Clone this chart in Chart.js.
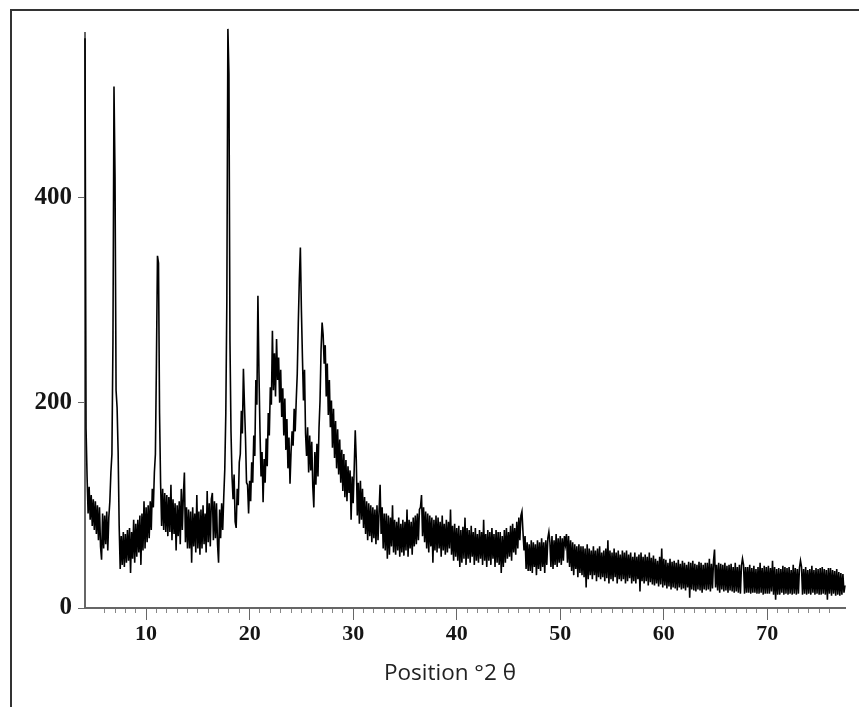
<!DOCTYPE html>
<html>
<head>
<meta charset="utf-8">
<title>Position °2 θ</title>
<script src="https://cdn.jsdelivr.net/npm/chart.js@4.4.0/dist/chart.umd.min.js"></script>
<style>
  html, body { margin: 0; padding: 0; background: #fff; }
  #wrap { position: relative; width: 859px; height: 707px; overflow: hidden; }
  #frame { position: absolute; left: 10px; top: 9px; width: 900px; height: 800px;
           border-top: 2px solid #333; border-left: 2px solid #333; }
  #xrd { position: absolute; left: 0; top: 0; }
  #xTitle { position: absolute; left: 330px; top: 657px; width: 240px; text-align: center;
            font: 22.5px "Open Sans", "DejaVu Sans", sans-serif; color: #222; line-height: 30px; }
</style>
</head>
<body>
<div id="wrap">
  <div id="frame"></div>
  <canvas id="xrd" width="859" height="707"></canvas>
  <div id="xTitle">Position °2 θ</div>
</div>
<script>
// ---------- DATA ----------
// scan grid (°2θ)
const startAngle = 4.1;
const stepAngle = 0.1;
const angleMin = 4.1;
const angleMax = 77.5;

// intensities, 10 points per degree (x.1 ... x+1.0)
const intensity = [
  555, 175, 128, 92, 118, 86, 110, 80, 106, 76,        // 4
  104, 72, 100, 66, 98, 60, 47, 92, 58, 90,            // 5
  62, 94, 56, 88, 104, 132, 150, 260, 508, 420,        // 6
  212, 195, 152, 80, 38, 70, 42, 74, 40, 72,           // 7
  44, 76, 46, 78, 34, 74, 48, 86, 44, 82,              // 8
  50, 86, 54, 90, 42, 92, 56, 104, 58, 98,             // 9
  64, 100, 68, 104, 76, 116, 98, 132, 150, 240,        // 10
  343, 336, 190, 122, 80, 116, 76, 112, 74, 110,       // 11
  70, 108, 74, 120, 66, 106, 72, 102, 56, 100,         // 12
  70, 104, 62, 116, 76, 110, 132, 64, 98, 58,          // 13
  96, 58, 94, 44, 98, 60, 92, 54, 110, 58,             // 14
  94, 52, 96, 58, 100, 62, 92, 54, 114, 64,            // 15
  102, 60, 106, 112, 66, 104, 68, 102, 62, 44,         // 16
  96, 68, 102, 76, 108, 135, 190, 300, 564, 520,       // 17
  260, 172, 128, 106, 130, 84, 78, 116, 100, 142,      // 18
  150, 192, 170, 233, 198, 166, 122, 120, 92, 124,     // 19
  104, 142, 122, 168, 148, 222, 198, 304, 230, 172,    // 20
  128, 152, 103, 145, 122, 165, 138, 190, 168, 215,    // 21
  198, 270, 212, 248, 206, 262, 222, 244, 200, 232,    // 22
  186, 214, 168, 204, 154, 184, 136, 166, 121, 152,    // 23
  172, 158, 194, 172, 202, 228, 277, 320, 351, 290,    // 24
  244, 202, 232, 170, 148, 176, 132, 168, 134, 162,    // 25
  118, 98, 152, 120, 160, 128, 175, 202, 252, 278,     // 26
  266, 238, 256, 206, 238, 188, 222, 176, 202, 156,    // 27
  194, 146, 182, 136, 174, 130, 164, 122, 154, 114,    // 28
  150, 108, 144, 104, 138, 112, 134, 86, 128, 102,     // 29
  136, 173, 144, 90, 122, 82, 124, 86, 116, 78,        // 30
  108, 72, 104, 66, 102, 70, 100, 64, 98, 68,          // 31
  96, 62, 100, 66, 94, 120, 72, 98, 58, 92,            // 32
  56, 92, 48, 90, 52, 88, 60, 100, 54, 86,             // 33
  52, 84, 56, 88, 50, 82, 54, 86, 51, 84,              // 34
  56, 96, 50, 86, 58, 84, 52, 88, 60, 90,              // 35
  62, 92, 66, 96, 98, 110, 70, 98, 64, 94,             // 36
  58, 92, 54, 90, 60, 88, 44, 86, 56, 90,              // 37
  54, 88, 58, 84, 50, 90, 56, 82, 52, 86,              // 38
  54, 84, 58, 96, 52, 80, 46, 82, 50, 78,              // 39
  46, 80, 40, 76, 44, 79, 48, 88, 42, 78,              // 40
  48, 76, 44, 80, 50, 74, 42, 78, 46, 72,              // 41
  44, 76, 48, 74, 42, 86, 46, 72, 40, 76,              // 42
  46, 74, 42, 78, 48, 72, 40, 76, 44, 74,              // 43
  42, 74, 34, 70, 40, 76, 44, 78, 48, 74,              // 44
  50, 80, 46, 82, 54, 78, 52, 84, 58, 88,              // 45
  66, 90, 94, 74, 56, 70, 38, 64, 36, 62,              // 46
  36, 66, 34, 64, 40, 62, 32, 66, 38, 64,              // 47
  36, 68, 40, 64, 34, 66, 42, 68, 74, 64,              // 48
  40, 70, 38, 66, 42, 72, 40, 68, 44, 70,              // 49
  42, 68, 46, 70, 62, 72, 44, 70, 40, 66,              // 50
  36, 64, 32, 62, 38, 60, 30, 62, 34, 60,              // 51
  32, 60, 30, 58, 20, 62, 28, 58, 32, 56,              // 52
  28, 60, 32, 56, 26, 58, 30, 60, 28, 54,              // 53
  30, 56, 26, 58, 29, 66, 24, 56, 28, 54,              // 54
  26, 58, 30, 54, 24, 56, 28, 52, 26, 56,              // 55
  28, 54, 24, 56, 26, 52, 29, 54, 24, 50,              // 56
  26, 54, 24, 50, 28, 52, 16, 54, 26, 50,              // 57
  24, 52, 26, 50, 22, 54, 25, 49, 23, 51,              // 58
  22, 48, 24, 46, 21, 50, 23, 58, 20, 48,              // 59
  22, 47, 19, 44, 21, 48, 18, 45, 20, 46,              // 60
  19, 44, 17, 47, 20, 43, 18, 46, 19, 44,              // 61
  17, 42, 20, 45, 10, 44, 18, 46, 17, 43,              // 62
  16, 42, 18, 45, 17, 44, 15, 42, 18, 44,              // 63
  17, 44, 18, 48, 16, 43, 19, 46, 57, 20,              // 64
  42, 17, 44, 15, 43, 18, 42, 16, 44, 17,              // 65
  41, 15, 42, 17, 43, 16, 40, 15, 44, 16,              // 66
  40, 15, 42, 14, 41, 48, 42, 14, 40, 15,              // 67
  40, 15, 42, 14, 39, 15, 41, 15, 38, 14,              // 68
  40, 14, 44, 15, 39, 13, 41, 14, 40, 14,              // 69
  41, 14, 39, 16, 46, 13, 40, 8, 38, 13,               // 70
  39, 13, 38, 15, 41, 13, 40, 14, 39, 13,              // 71
  40, 14, 37, 13, 42, 14, 39, 13, 38, 14,              // 72
  39, 46, 40, 13, 38, 14, 40, 13, 37, 14,              // 73
  38, 13, 41, 15, 37, 13, 39, 14, 38, 13,              // 74
  39, 13, 40, 14, 38, 13, 37, 8, 39, 14,               // 75
  39, 12, 37, 14, 36, 12, 38, 13, 35, 12,              // 76
  34, 13, 33, 15, 22                                   // 77
];

// tick values shown on the axes
const yTickValues = [0, 200, 400];
const xTickValues = [10, 20, 30, 40, 50, 60, 70];

// ---------- CHART ----------
const points = intensity.map((v, i) => ({ x: +(startAngle + i * stepAngle).toFixed(2), y: v }));

const axisColor = '#666';
const labelColor = '#151515';
const isInt = v => Math.abs(v - Math.round(v)) < 1e-6;

new Chart(document.getElementById('xrd').getContext('2d'), {
  type: 'line',
  data: {
    datasets: [{
      data: points,
      borderColor: '#000',
      borderWidth: 1.6,
      borderJoinStyle: 'miter',
      pointRadius: 0,
      tension: 0,
      fill: false,
      clip: false
    }]
  },
  options: {
    responsive: false,
    animation: false,
    devicePixelRatio: 1,
    layout: { padding: { top: 33, right: 14, left: 0, bottom: 0 } },
    plugins: { legend: { display: false }, tooltip: { enabled: false } },
    scales: {
      xMinor: {
        type: 'linear', position: 'bottom', weight: 0,
        min: angleMin, max: angleMax,
        ticks: { display: false, stepSize: 1 },
        grid: { drawOnChartArea: false, drawTicks: true, tickLength: 5, color: '#888', lineWidth: 1 },
        border: { display: false },
        afterBuildTicks: s => { s.ticks = s.ticks.filter(t => isInt(t.value)); },
        afterFit: s => { s.height = 0; }
      },
      x: {
        type: 'linear', position: 'bottom', weight: 1,
        min: angleMin, max: angleMax,
        ticks: {
          stepSize: 10, autoSkip: false, maxRotation: 0, padding: 1,
          color: labelColor,
          font: { family: '"Liberation Serif", "Times New Roman", serif', size: 22, weight: 'bold' }
        },
        grid: { drawOnChartArea: false, drawTicks: true, tickLength: 12, color: axisColor, lineWidth: 1 },
        border: { display: true, color: axisColor, width: 2 },
        afterBuildTicks: s => { s.ticks = xTickValues.map(v => ({ value: v })); },
        afterFit: s => { s.height = 99; }
      },
      y: {
        type: 'linear', position: 'left',
        min: 0, max: 560,
        ticks: {
          stepSize: 200, padding: 6, color: labelColor,
          font: { family: '"Liberation Serif", "Times New Roman", serif', size: 25, weight: 'bold' }
        },
        grid: { drawOnChartArea: false, drawTicks: true, tickLength: 7, color: axisColor, lineWidth: 1 },
        border: { display: true, color: axisColor, width: 2 },
        afterBuildTicks: s => { s.ticks = yTickValues.map(v => ({ value: v })); },
        afterFit: s => { s.width = 85; }
      }
    }
  }
});
</script>
</body>
</html>
